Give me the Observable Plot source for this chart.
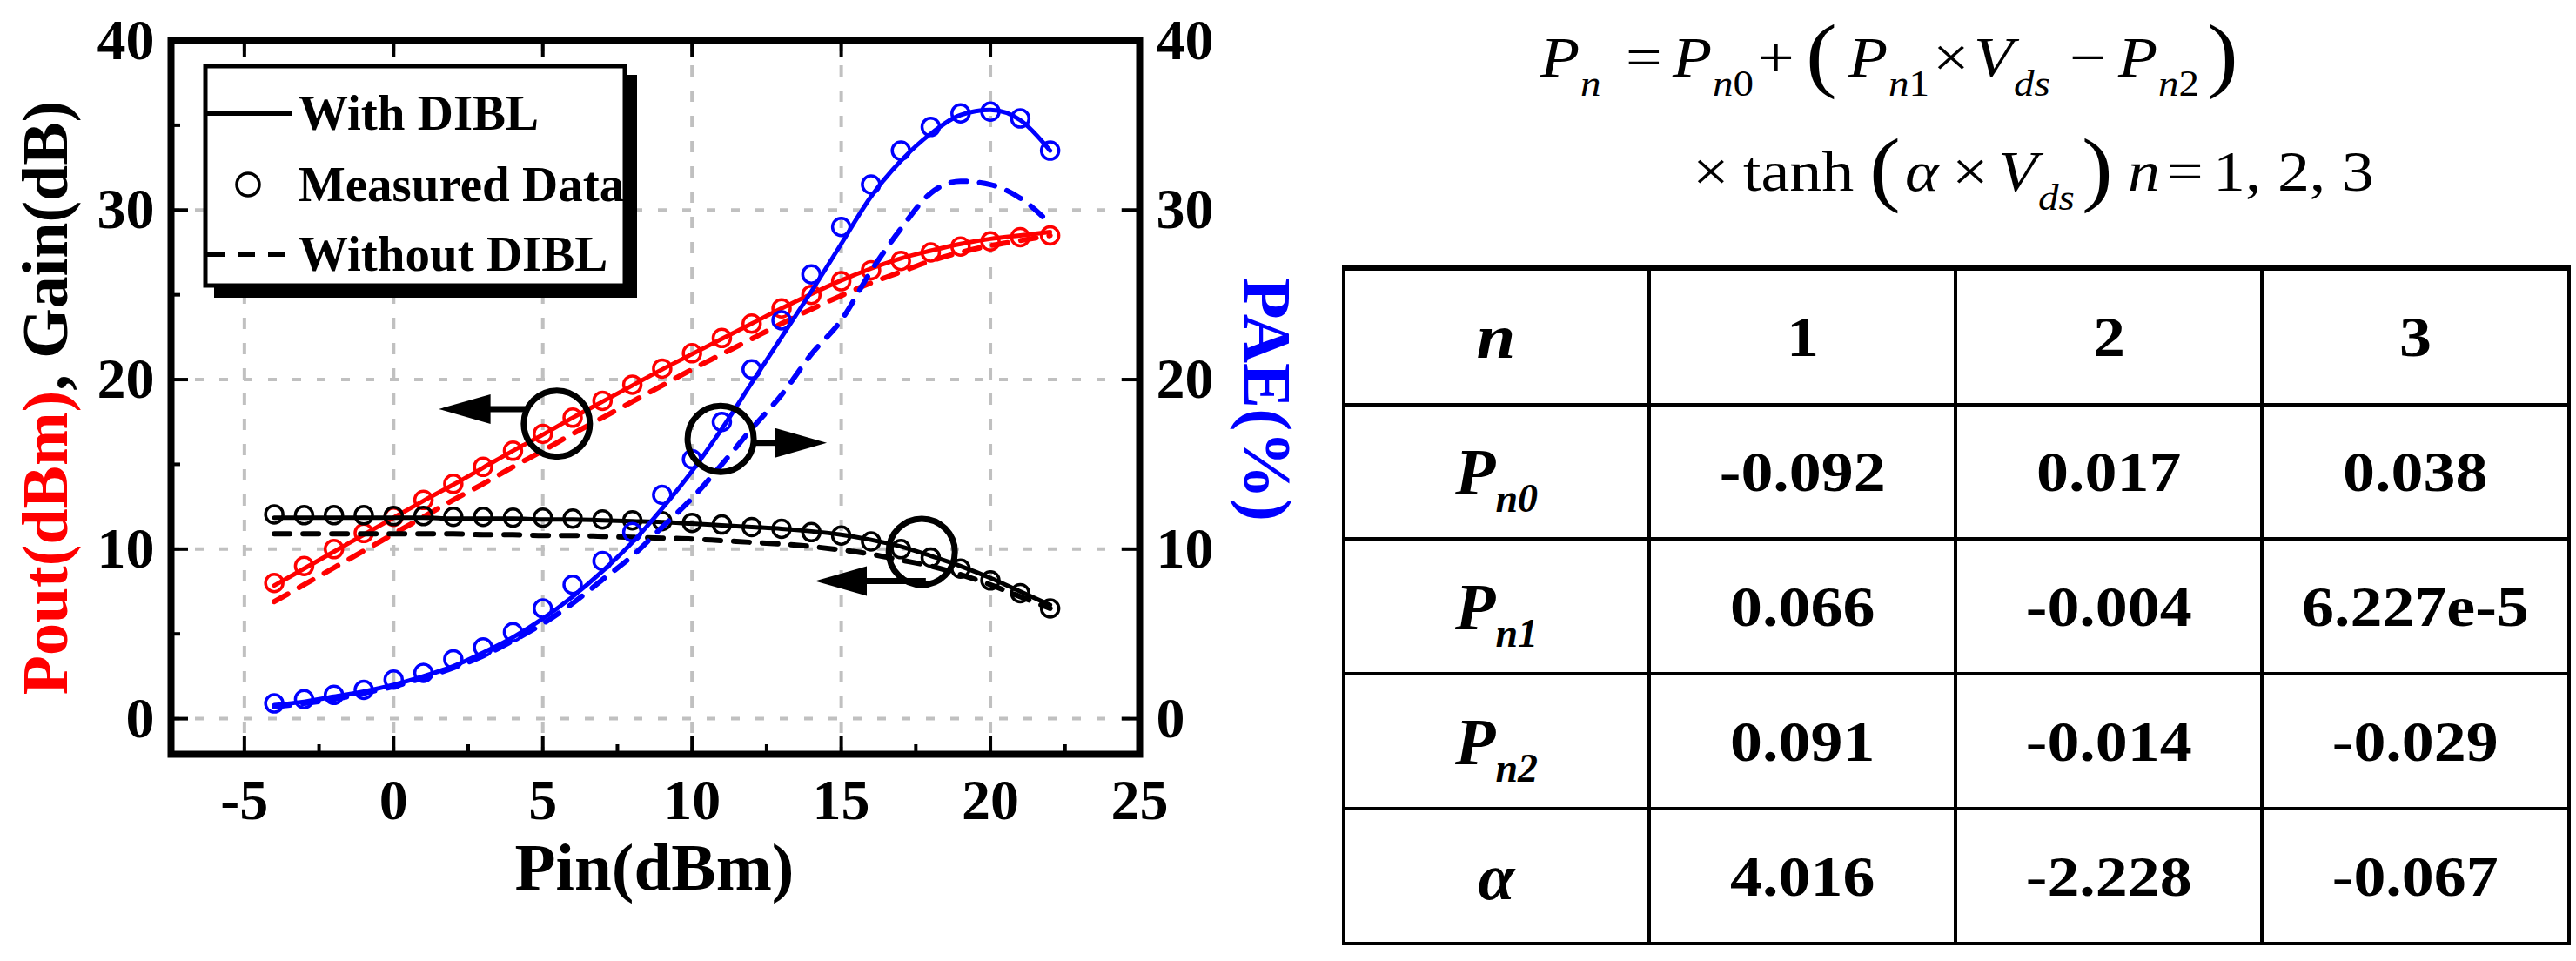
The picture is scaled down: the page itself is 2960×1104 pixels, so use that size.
<!DOCTYPE html>
<html>
<head>
<meta charset="utf-8">
<script src="https://cdn.jsdelivr.net/npm/d3@7"></script>
<script src="https://cdn.jsdelivr.net/npm/@observablehq/plot@0.6"></script>
<style>
html,body{margin:0;padding:0;background:#fff;}
#wrap{position:relative;width:2960px;height:1104px;overflow:hidden;background:#fff;font-family:'Liberation Serif','Times New Roman',serif;}
#chart{position:absolute;left:0;top:0;}
#formula{position:absolute;left:1500px;top:0;font-family:'Liberation Serif','Times New Roman',serif;font-weight:400;}
#tbl{position:absolute;left:1542px;top:305px;border-collapse:collapse;font-family:'Liberation Serif','Times New Roman',serif;font-weight:bold;font-size:66px;color:#000;}
#tbl td{border:4px solid #000;text-align:center;vertical-align:middle;padding:0;line-height:1;}
#tbl tr:first-child td{border-top:6px solid #000;}
#tbl .w{display:inline-block;transform:scaleX(1.12);}
#tbl .sub{font-size:46px;position:relative;top:20px;font-style:italic;font-weight:bold;}
#tbl .big{font-size:76px;font-style:italic;font-weight:bold;}
</style>
</head>
<body>
<div id="wrap">
  <div id="chart"></div>
  <svg id="formula" width="1460" height="300" font-size="66" fill="#000">
    <g transform="translate(-1500,0)">
      <text x="1770" y="88" font-style="italic">P</text><text x="1816" y="110" font-size="42" font-style="italic">n</text>
      <text x="1868" y="88">=</text>
      <text x="1922" y="88" font-style="italic">P</text><text x="1968" y="110" font-size="42"><tspan font-style="italic">n</tspan>0</text>
      <text x="2020" y="88">+</text>
      <text x="2075" y="94" font-size="96">(</text>
      <text x="2124" y="88" font-style="italic">P</text><text x="2170" y="110" font-size="42"><tspan font-style="italic">n</tspan>1</text>
      <text x="2221" y="88">×</text>
      <text x="2268" y="88" font-style="italic">V</text><text x="2314" y="110" font-size="42" font-style="italic">ds</text>
      <text x="2378" y="88">−</text>
      <text x="2434" y="88" font-style="italic">P</text><text x="2480" y="110" font-size="42"><tspan font-style="italic">n</tspan>2</text>
      <text x="2536" y="94" font-size="96">)</text>
      <text x="1945" y="219">×</text>
      <text x="2003" y="219">tanh</text>
      <text x="2148" y="225" font-size="96">(</text>
      <text x="2189" y="219" font-style="italic">α</text>
      <text x="2243" y="219">×</text>
      <text x="2296" y="219" font-style="italic">V</text><text x="2342" y="241" font-size="42" font-style="italic">ds</text>
      <text x="2392" y="225" font-size="96">)</text>
      <text x="2445" y="219" font-style="italic">n</text>
      <text x="2490" y="219">=</text>
      <text x="2543" y="219">1, 2, 3</text>
    </g>
  </svg>
  <table id="tbl"></table>
</div>
<script>
// ---------------- data ----------------
const pin = [-4, -3, -2, -1, 0, 1, 2, 3, 4, 5, 6, 7, 8, 9, 10, 11, 12, 13, 14, 15, 16, 17, 18, 19, 20, 21, 22];

const poutMeasured = [8.0, 9.0, 10.0, 10.95, 11.9, 12.9, 13.85, 14.85, 15.8, 16.8, 17.75, 18.75, 19.7, 20.65, 21.55, 22.45, 23.3, 24.2, 25.0, 25.8, 26.45, 27.0, 27.5, 27.85, 28.15, 28.4, 28.5];
const poutWithDIBL = [7.85, 8.85, 9.85, 10.85, 11.85, 12.85, 13.8, 14.8, 15.8, 16.75, 17.75, 18.7, 19.65, 20.6, 21.5, 22.4, 23.3, 24.2, 25.05, 25.85, 26.55, 27.15, 27.6, 28.0, 28.3, 28.5, 28.7];
const poutWithoutDIBL = [6.9, 7.9, 8.9, 9.9, 10.9, 11.9, 12.9, 13.85, 14.85, 15.8, 16.8, 17.75, 18.7, 19.65, 20.6, 21.5, 22.4, 23.3, 24.15, 24.95, 25.7, 26.35, 27.0, 27.5, 27.9, 28.2, 28.5];

const gainMeasured = [12.05, 12.0, 12.0, 12.0, 11.95, 11.95, 11.9, 11.9, 11.85, 11.85, 11.8, 11.75, 11.7, 11.65, 11.55, 11.45, 11.3, 11.2, 11.0, 10.8, 10.45, 10.0, 9.5, 8.85, 8.15, 7.4, 6.5];
const gainWithDIBL = [11.85, 11.85, 11.85, 11.85, 11.85, 11.85, 11.8, 11.8, 11.8, 11.75, 11.75, 11.7, 11.65, 11.6, 11.5, 11.4, 11.3, 11.2, 11.05, 10.85, 10.55, 10.15, 9.6, 9.0, 8.3, 7.5, 6.7];
const gainWithoutDIBL = [10.9, 10.9, 10.9, 10.9, 10.9, 10.9, 10.9, 10.85, 10.85, 10.8, 10.8, 10.75, 10.7, 10.65, 10.6, 10.5, 10.4, 10.3, 10.15, 9.95, 9.7, 9.35, 9.0, 8.5, 7.9, 7.2, 6.5];

const paeMeasured = [0.9, 1.15, 1.4, 1.7, 2.3, 2.7, 3.5, 4.2, 5.1, 6.5, 7.9, 9.3, 11.0, 13.2, 15.3, 17.5, 20.6, 23.5, 26.2, 29.0, 31.5, 33.5, 34.9, 35.7, 35.8, 35.4, 33.5];
const paeWithDIBL = [0.8, 1.0, 1.3, 1.6, 2.0, 2.5, 3.1, 3.9, 4.8, 5.9, 7.2, 8.7, 10.4, 12.4, 14.6, 17.1, 19.8, 22.5, 25.2, 28.0, 30.8, 32.9, 34.5, 35.6, 35.9, 35.3, 33.5];
const paeWithoutDIBL = [0.7, 0.9, 1.15, 1.5, 1.9, 2.4, 3.0, 3.7, 4.6, 5.6, 6.8, 8.2, 9.6, 11.3, 13.0, 15.0, 17.1, 19.1, 21.5, 23.5, 26.4, 28.9, 31.0, 31.7, 31.5, 30.7, 29.2];

const xTicks = [-5, 0, 5, 10, 15, 20, 25];
const yTicks = [0, 10, 20, 30, 40];
const xMinor = [-2.5, 2.5, 7.5, 12.5, 17.5, 22.5];
const yMinor = [5, 15, 25, 35];
const xGrid = [-5, 0, 5, 10, 15, 20];
const yGrid = [0, 10, 20, 30];

// annotation markers (data units)
const annCircles = [{x: 5.47, y: 17.4}, {x: 10.96, y: 16.5}, {x: 17.7, y: 9.84}];
const annShafts = [{x1: 3.2, x2: 4.45, y: 18.26}, {x1: 12.05, x2: 12.85, y: 16.27}, {x1: 15.8, x2: 17.85, y: 8.12}];
const annHeadsLeft = [{x: 2.38, y: 18.26}, {x: 14.99, y: 8.12}];
const annHeadsRight = [{x: 13.65, y: 16.27}];

const legendLabels = ["With DIBL", "Measured Data", "Without DIBL"];
const xTitle = "Pin(dBm)";
const yTitleRed = "Pout(dBm)";
const yTitleBlack = ", Gain(dB)";
const y2Title = "PAE(%)";

const tableHeader = ["n", "1", "2", "3"];
const rowLabels = [["P", "n0"], ["P", "n1"], ["P", "n2"], ["α", ""]];
const tableValues = [
  ["-0.092", "0.017", "0.038"],
  ["0.066", "-0.004", "6.227e-5"],
  ["0.091", "-0.014", "-0.029"],
  ["4.016", "-2.228", "-0.067"]
];

// ---------------- chart ----------------
const rows = ys => pin.map((x, i) => ({x, y: ys[i]}));
const RED = "#ff0000", BLUE = "#0000ff", BLK = "#000000";
const dash = "18,15";
const headLeft = {draw(ctx, size) { const s = Math.sqrt(size / Math.PI); ctx.moveTo(-1.75 * s, 0); ctx.lineTo(1.75 * s, -s); ctx.lineTo(1.75 * s, s); ctx.closePath(); }};
const headRight = {draw(ctx, size) { const s = Math.sqrt(size / Math.PI); ctx.moveTo(1.75 * s, 0); ctx.lineTo(-1.75 * s, -s); ctx.lineTo(-1.75 * s, s); ctx.closePath(); }};

function series(ys, color, kind) {
  if (kind === "solid") return Plot.line(rows(ys), {x: "x", y: "y", stroke: color, strokeWidth: 5, curve: "monotone-x"});
  if (kind === "dash") return Plot.line(rows(ys), {x: "x", y: "y", stroke: color, strokeWidth: 6, strokeDasharray: dash, curve: "monotone-x"});
  return Plot.dot(rows(ys), {x: "x", y: "y", r: 10, stroke: color, strokeWidth: 3.5, fill: "none"});
}

const FH = 820, FW = 1113;
const chart = Plot.plot({
  width: 1500, height: 1104,
  marginLeft: 196, marginRight: 191, marginTop: 46, marginBottom: 238,
  style: {fontFamily: "'Liberation Serif','Times New Roman',serif", fontSize: "66px", fontWeight: "bold", color: "#000", background: "#fff", overflow: "visible"},
  x: {domain: [-7.46, 25], ticks: xTicks, tickFormat: d => String(d), tickSize: 0, tickPadding: 28, label: null},
  y: {domain: [-2.1, 40], ticks: yTicks, tickFormat: d => String(d), tickSize: 0, tickPadding: 19, label: null, axis: "both"},
  marks: [
    Plot.ruleX(xGrid, {x: d => d, stroke: "#c0c0c0", strokeWidth: 4, strokeDasharray: "13,16"}),
    Plot.ruleY(yGrid, {y: d => d, stroke: "#c0c0c0", strokeWidth: 4, strokeDasharray: "10,18"}),
    Plot.tickX(xGrid, {x: d => d, insetTop: FH - 20, stroke: BLK, strokeWidth: 4}),
    Plot.tickX(xGrid, {x: d => d, insetBottom: FH - 20, stroke: BLK, strokeWidth: 4}),
    Plot.tickX(xMinor, {x: d => d, insetTop: FH - 11, stroke: BLK, strokeWidth: 4}),
    Plot.tickY(yGrid, {y: d => d, insetRight: FW - 20, stroke: BLK, strokeWidth: 4}),
    Plot.tickY(yMinor, {y: d => d, insetRight: FW - 11, stroke: BLK, strokeWidth: 4}),
    Plot.tickY(yGrid, {y: d => d, insetLeft: FW - 20, stroke: BLK, strokeWidth: 4}),
    series(poutWithDIBL, RED, "solid"),
    series(poutWithoutDIBL, RED, "dash"),
    series(poutMeasured, RED, "dot"),
    series(gainWithDIBL, BLK, "solid"),
    series(gainWithoutDIBL, BLK, "dash"),
    series(gainMeasured, BLK, "dot"),
    series(paeWithDIBL, BLUE, "solid"),
    series(paeWithoutDIBL, BLUE, "dash"),
    series(paeMeasured, BLUE, "dot"),
    Plot.dot(annCircles, {x: "x", y: "y", r: 38, stroke: BLK, strokeWidth: 7, fill: "none"}),
    Plot.ruleY(annShafts, {y: "y", x1: "x1", x2: "x2", stroke: BLK, strokeWidth: 7}),
    Plot.dot(annHeadsLeft, {x: "x", y: "y", r: 17, symbol: headLeft, fill: BLK, stroke: "none"}),
    Plot.dot(annHeadsRight, {x: "x", y: "y", r: 17, symbol: headRight, fill: BLK, stroke: "none"}),
    Plot.frame({stroke: BLK, strokeWidth: 8})
  ]
});
document.getElementById("chart").appendChild(chart);

// titles and legend added to the SVG
const svg = d3.select(chart);
const font = "'Liberation Serif','Times New Roman',serif";
const yt = svg.append("text").attr("transform", "translate(77,457) rotate(-90)")
  .attr("text-anchor", "middle").attr("font-family", font).attr("font-size", 74).attr("font-weight", "bold");
yt.append("tspan").attr("fill", RED).text(yTitleRed);
yt.append("tspan").attr("fill", BLK).text(yTitleBlack);
svg.append("text").attr("transform", "translate(1430,459) rotate(90)")
  .attr("text-anchor", "middle").attr("font-family", font).attr("font-size", 78).attr("font-weight", "bold")
  .attr("fill", BLUE).text(y2Title);
svg.append("text").attr("x", 752).attr("y", 1022).attr("text-anchor", "middle")
  .attr("font-family", font).attr("font-size", 77).attr("font-weight", "bold").attr("fill", BLK).text(xTitle);

const lg = svg.append("g").attr("text-anchor", "start");
lg.append("rect").attr("x", 246).attr("y", 86).attr("width", 486).attr("height", 256).attr("fill", BLK);
lg.append("rect").attr("x", 236).attr("y", 76).attr("width", 482).attr("height", 252).attr("fill", "#fff").attr("stroke", BLK).attr("stroke-width", 5);
lg.append("line").attr("x1", 238).attr("x2", 336).attr("y1", 130).attr("y2", 130).attr("stroke", BLK).attr("stroke-width", 6);
lg.append("circle").attr("cx", 285).attr("cy", 212).attr("r", 13).attr("fill", "none").attr("stroke", BLK).attr("stroke-width", 3.5);
lg.append("line").attr("x1", 238).attr("x2", 330).attr("y1", 292).attr("y2", 292).attr("stroke", BLK).attr("stroke-width", 6).attr("stroke-dasharray", "20,15");
const lgBase = [149, 231, 311];
legendLabels.forEach((t, i) => lg.append("text").attr("x", 343).attr("y", lgBase[i]).attr("text-anchor", "start").attr("font-family", font)
  .attr("font-size", 57).attr("font-weight", "bold").attr("fill", BLK).text(t));

// widen formula glyphs about their own start point
d3.selectAll("#formula text").each(function() {
  const x = +this.getAttribute("x"), k = 1.12;
  this.setAttribute("transform", `translate(${x * (1 - k)},0) scale(${k},1)`);
});

// ---------------- table ----------------
const colW = [347, 348, 348, 349];
const rowH = [157, 154, 155, 155, 155];
const tbl = d3.select("#tbl");
const hr = tbl.append("tr").style("height", rowH[0] + "px");
tableHeader.forEach((h, j) => {
  const td = hr.append("td").style("width", colW[j] + "px");
  const s = td.append("span").attr("class", "w").text(h);
  if (j === 0) s.style("font-style", "italic").style("font-size", "72px");
});
tableValues.forEach((vals, i) => {
  const tr = tbl.append("tr").style("height", rowH[i + 1] + "px");
  const lab = tr.append("td");
  lab.append("span").attr("class", "big").text(rowLabels[i][0]);
  if (rowLabels[i][1]) lab.append("span").attr("class", "sub").text(rowLabels[i][1]);
  vals.forEach(v => tr.append("td").append("span").attr("class", "w").text(v));
});
</script>
</body>
</html>
